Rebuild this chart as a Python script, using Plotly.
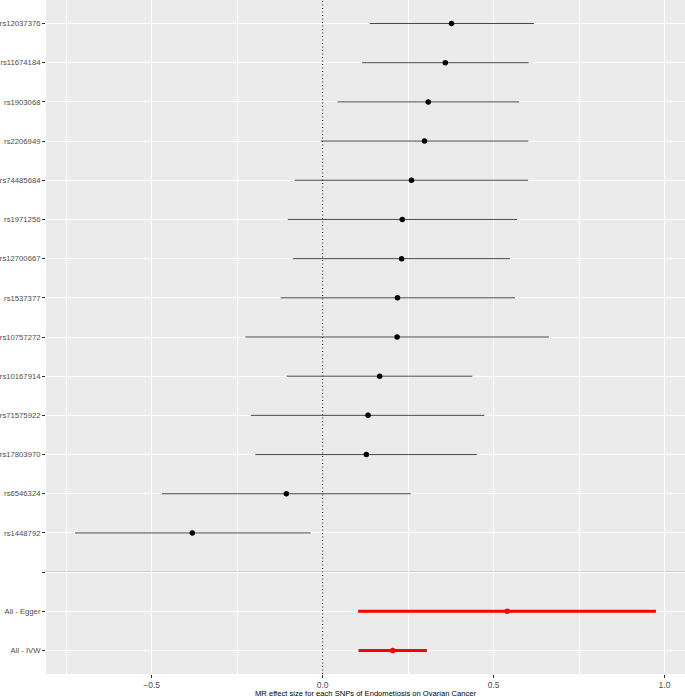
import plotly.graph_objects as go

# Data (top to bottom order as displayed)
snps = ["rs12037376", "rs11674184", "rs1903068", "rs2206949", "rs74485684",
        "rs1971256", "rs12700667", "rs1537377", "rs10757272", "rs10167914",
        "rs71575922", "rs17803970", "rs6546324", "rs1448792"]
snp_b = [0.377, 0.359, 0.309, 0.298, 0.260, 0.233, 0.231, 0.219, 0.218,
         0.167, 0.133, 0.128, -0.106, -0.381]
snp_lo = [0.138, 0.115, 0.044, -0.005, -0.082, -0.102, -0.087, -0.123, -0.226,
          -0.105, -0.210, -0.197, -0.470, -0.724]
snp_hi = [0.618, 0.603, 0.575, 0.602, 0.601, 0.569, 0.548, 0.563, 0.662,
          0.438, 0.473, 0.451, 0.258, -0.035]

summary_labels = ["All - Egger", "All - IVW"]
summary_b = [0.540, 0.205]
summary_lo = [0.104, 0.105]
summary_hi = [0.975, 0.305]

x_ticks = [-0.5, 0.0, 0.5, 1.0]
x_ticktext = ["\u22120.5", "0.0", "0.5", "1.0"]
x_minor = [-0.75, -0.25, 0.25, 0.75]
x_title = "MR effect size for each SNPs of Endometiosis on Ovarian Cancer"

# Category order (bottom to top): summaries, blank separator, SNPs
levels = list(reversed(summary_labels)) + [""] + list(reversed(snps))
pos = {lab: i + 1 for i, lab in enumerate(levels)}

snp_y = [pos[s] for s in snps]
sum_y = [pos[s] for s in summary_labels]

FONT = "Liberation Sans, Arial, sans-serif"

fig = go.Figure()

fig.add_trace(go.Scatter(
    x=snp_b, y=snp_y, mode="markers",
    marker=dict(color="black", size=5.5),
    error_x=dict(type="data", symmetric=False,
                 array=[h - b for h, b in zip(snp_hi, snp_b)],
                 arrayminus=[b - l for l, b in zip(snp_lo, snp_b)],
                 width=0, thickness=1, color="#4a4a4a"),
    showlegend=False, hoverinfo="skip"))

fig.add_trace(go.Scatter(
    x=summary_b, y=sum_y, mode="markers",
    marker=dict(color="red", size=5.5),
    error_x=dict(type="data", symmetric=False,
                 array=[h - b for h, b in zip(summary_hi, summary_b)],
                 arrayminus=[b - l for l, b in zip(summary_lo, summary_b)],
                 width=0, thickness=3, color="red"),
    showlegend=False, hoverinfo="skip"))

# reference lines
fig.add_shape(type="line", xref="x", yref="paper", x0=0, x1=0, y0=0, y1=1,
              line=dict(color="black", width=1, dash="1px,2.5px"), layer="above")
fig.add_shape(type="line", xref="paper", yref="y", x0=0, x1=1,
              y0=pos[""], y1=pos[""],
              line=dict(color="#c4c4c4", width=1.8), layer="below")

all_lo = snp_lo + summary_lo
all_hi = snp_hi + summary_hi
xmin, xmax = min(all_lo), max(all_hi)
pad = 0.05 * (xmax - xmin)

fig.add_annotation(text=x_title, xref="paper", yref="paper", x=0.5, y=0,
                   yshift=-19, xanchor="center", yanchor="middle",
                   showarrow=False, font=dict(size=7.6, color="black"))

fig.update_layout(
    width=685, height=697,
    margin=dict(l=46, r=0, t=0, b=23, pad=0),
    paper_bgcolor="white", plot_bgcolor="#ebebeb",
    font=dict(family=FONT, size=8, color="#4d4d4d"),
    xaxis=dict(
        range=[xmin - pad, xmax + pad], automargin=False,
        tickvals=x_ticks, ticktext=x_ticktext,
        showgrid=True, gridcolor="white", gridwidth=1.1,
        minor=dict(tickvals=x_minor, showgrid=True,
                   gridcolor="white", gridwidth=0.6, ticks=""),
        zeroline=False, showline=False,
        ticks="outside", ticklen=3, tickcolor="#333333", tickwidth=1,
        tickfont=dict(size=8.5, color="#4d4d4d"),
    ),
    yaxis=dict(
        range=[0.4, len(levels) + 0.6], automargin=False,
        tickvals=list(range(1, len(levels) + 1)), ticktext=levels,
        showgrid=True, gridcolor="white", gridwidth=1.1,
        zeroline=False, showline=False,
        ticks="outside", ticklen=3, tickcolor="#333333", tickwidth=1,
        tickfont=dict(size=7.7, color="#4d4d4d"),
    ),
)

fig.write_html("out.html", config={"displayModeBar": False},
               post_script="document.body.style.margin='0';")
